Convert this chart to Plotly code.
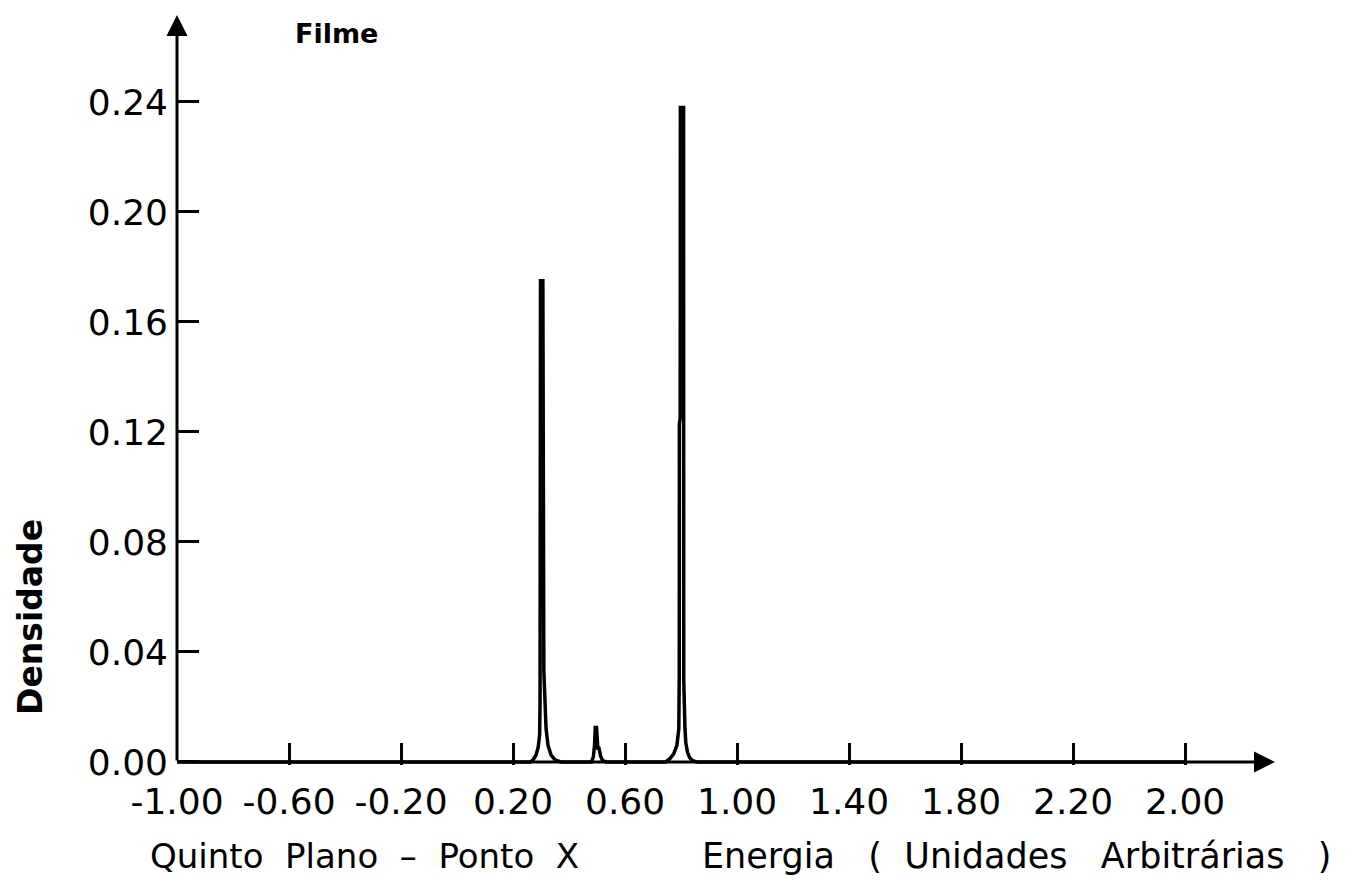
import plotly.graph_objects as go

# ---- data ----
energy = [-1.00,
          0.262, 0.272, 0.282, 0.290, 0.295, 0.2965, 0.2975, 0.298, 0.3065, 0.307, 0.3095, 0.310,
          0.313, 0.318, 0.325, 0.336, 0.350, 0.370,
          0.480, 0.487, 0.491, 0.4935, 0.498, 0.500, 0.503, 0.507, 0.513, 0.520, 0.532,
          0.745, 0.760, 0.774, 0.785, 0.792, 0.7935, 0.794, 0.797, 0.7975, 0.809, 0.8095,
          0.811, 0.8135, 0.814, 0.817, 0.823, 0.831, 0.841, 0.857, 2.60]
density = [0.0,
           0.0, 0.0008, 0.0025, 0.0055, 0.010, 0.022, 0.060, 0.175, 0.175, 0.115, 0.110, 0.033,
           0.025, 0.012, 0.006, 0.0025, 0.0008, 0.0,
           0.0, 0.002, 0.006, 0.0125, 0.0125, 0.006, 0.005, 0.005, 0.002, 0.0005, 0.0,
           0.0, 0.0012, 0.003, 0.006, 0.012, 0.030, 0.123, 0.125, 0.238, 0.238, 0.030,
           0.016, 0.016, 0.012, 0.007, 0.0035, 0.0015, 0.0005, 0.0, 0.0]

x_ticks = [-1.00, -0.60, -0.20, 0.20, 0.60, 1.00, 1.40, 1.80, 2.20, 2.60]
x_tick_text = ["-1.00", "-0.60", "-0.20", "0.20", "0.60", "1.00", "1.40", "1.80", "2.20", "2.00"]
y_ticks = [0.00, 0.04, 0.08, 0.12, 0.16, 0.20, 0.24]
y_tick_text = ["0.00", "0.04", "0.08", "0.12", "0.16", "0.20", "0.24"]

X_RANGE = [-1.0, 2.921]
Y_RANGE = [-0.0011, 0.2716]

FONT = "DejaVu Sans"
SP2 = " \u00a0"          # wide word gap
SP3 = " \u00a0\u00a0"    # wider word gap

fig = go.Figure()
fig.add_trace(go.Scatter(x=energy, y=density, mode="lines",
                         line=dict(color="black", width=3.5), hoverinfo="skip",
                         showlegend=False))

# plot area in pixels: left 177, right 1275, top 15, bottom 765
L, R, T, B = 177, 1275, 15, 765
def px(xp):
    return (xp - L) / (R - L)
def py(yp):
    return (B - yp) / (B - T)

annotations = [
    # axes with arrows
    dict(x=X_RANGE[1], y=0, ax=X_RANGE[0], ay=0, xref="x", yref="y", axref="x", ayref="y",
         showarrow=True, arrowhead=2, arrowsize=1.4, arrowwidth=3, arrowcolor="black", text=""),
    dict(x=-1.0, y=Y_RANGE[1], ax=-1.0, ay=0, xref="x", yref="y", axref="x", ayref="y",
         showarrow=True, arrowhead=2, arrowsize=1.4, arrowwidth=3, arrowcolor="black", text=""),
    dict(text="<b>Filme</b>", x=px(336), y=py(33), xref="paper", yref="paper",
         xanchor="center", yanchor="middle",
         showarrow=False, font=dict(family=FONT, size=27, color="black")),
    dict(text="<b>Densidade</b>", x=px(30), y=py(617), xref="paper", yref="paper",
         xanchor="center", yanchor="middle",
         showarrow=False, textangle=-90, font=dict(family=FONT, size=33, color="black")),
    dict(text=SP2.join(["Quinto", "Plano", "–", "Ponto", "X"]), x=px(148), y=py(856),
         xref="paper", yref="paper", xanchor="left", yanchor="middle", showarrow=False,
         font=dict(family=FONT, size=34, color="black")),
    dict(text="Energia" + SP3 + "(" + SP2 + "Unidades" + SP3 + "Arbitrárias" + SP3 + ")",
         x=px(700), y=py(856),
         xref="paper", yref="paper", xanchor="left", yanchor="middle", showarrow=False,
         font=dict(family=FONT, size=35, color="black")),
]

fig.update_layout(
    width=1363, height=893,
    margin=dict(l=L, r=1363 - R, t=T, b=893 - B),
    paper_bgcolor="white", plot_bgcolor="white",
    annotations=annotations,
    xaxis=dict(range=X_RANGE, tickvals=x_ticks, ticktext=x_tick_text,
               ticks="inside", ticklen=22, tickwidth=3, tickcolor="black",
               showgrid=False, zeroline=False, showline=False,
               ticklabelstandoff=12,
               tickfont=dict(family=FONT, size=36, color="black")),
    yaxis=dict(range=Y_RANGE, tickvals=y_ticks, ticktext=y_tick_text,
               ticks="inside", ticklen=22, tickwidth=3, tickcolor="black",
               showgrid=False, zeroline=False, showline=False,
               ticklabelstandoff=8,
               tickfont=dict(family=FONT, size=36, color="black")),
)

fig.write_html("out.html")
